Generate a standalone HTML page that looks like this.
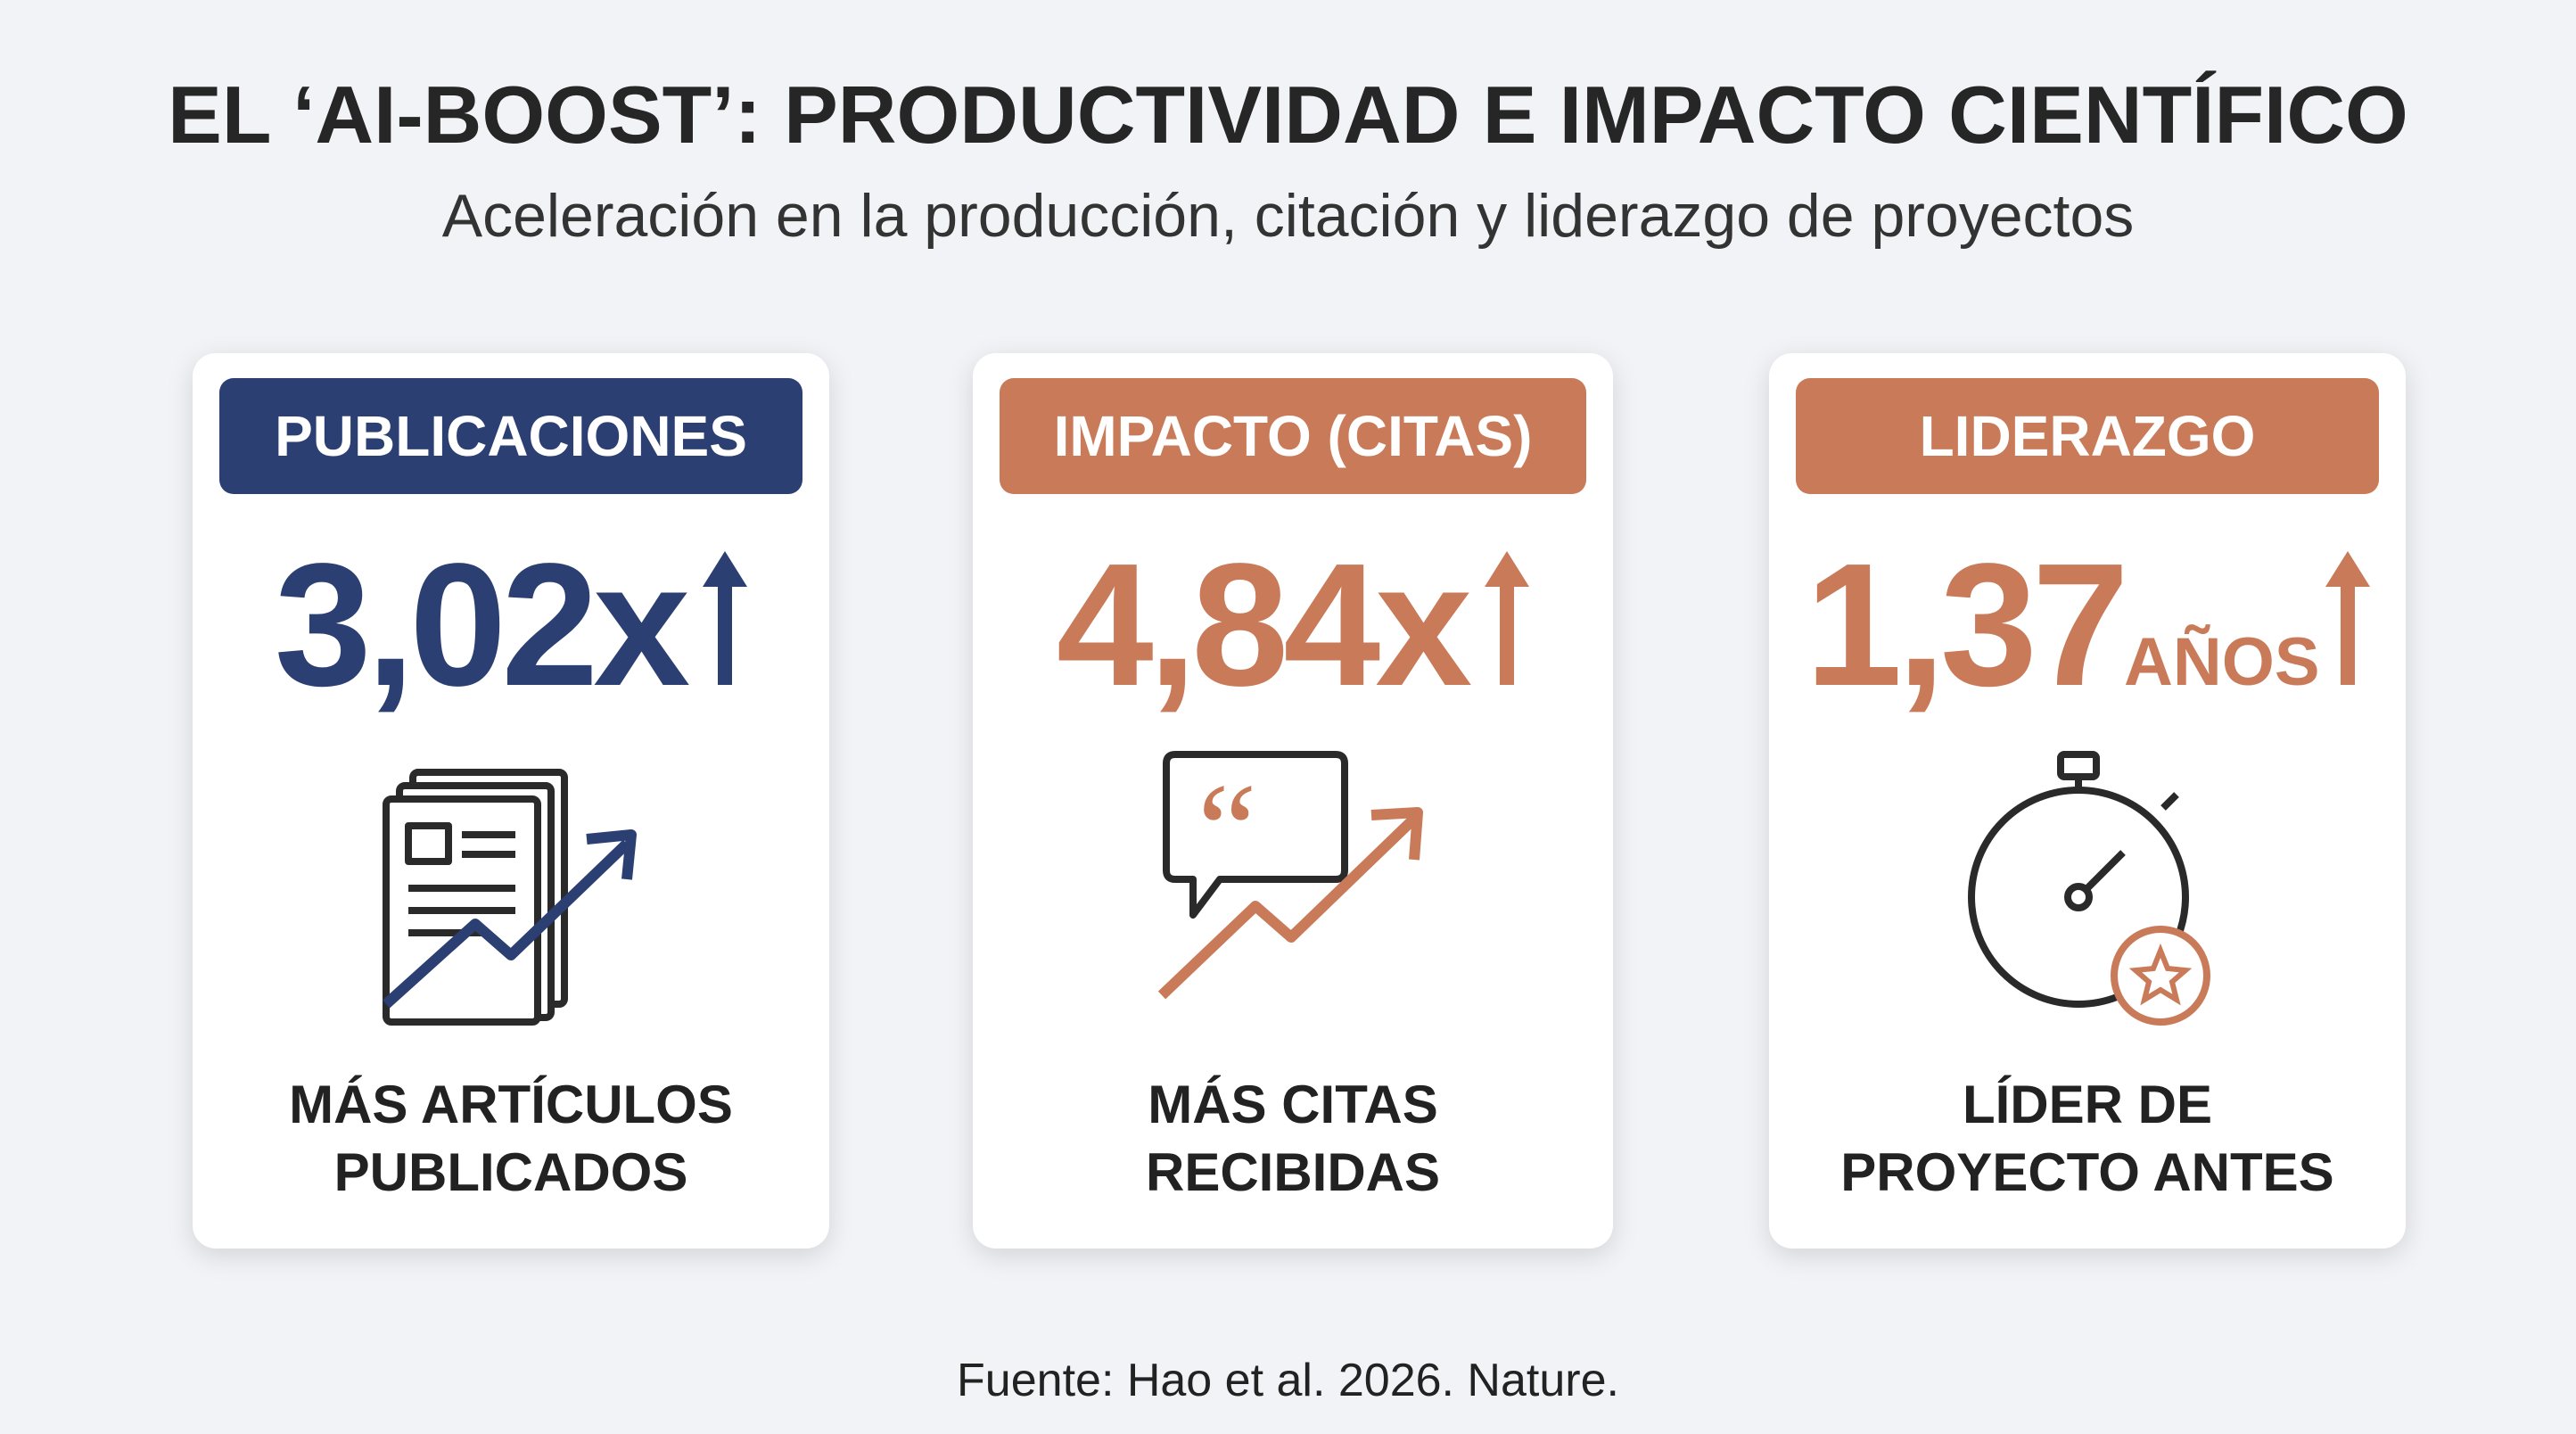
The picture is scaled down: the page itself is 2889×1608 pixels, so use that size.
<!DOCTYPE html>
<html><head><meta charset="utf-8"><style>
*{margin:0;padding:0;box-sizing:border-box}
body{width:2889px;height:1608px;background:#f2f3f6;font-family:"Liberation Sans",sans-serif;position:relative;overflow:hidden;color:#2a2a2a}
.t{position:absolute;left:0;width:2889px;text-align:center}
.card{position:absolute;top:396px;width:714px;height:1004px;background:#fff;border-radius:26px;box-shadow:0 8px 30px rgba(0,0,0,.13)}
.pill{position:absolute;left:30px;right:30px;top:28px;height:130px;border-radius:16px;color:#fff;font-weight:bold;font-size:64px;display:flex;align-items:center;justify-content:center}
.num{position:absolute;left:0;right:0;top:195px;text-align:center;font-weight:bold;font-size:196px;letter-spacing:-6px;line-height:220px}
.num svg{vertical-align:baseline;margin-left:20px}
.lab{position:absolute;left:0;right:0;top:805px;text-align:center;font-weight:bold;font-size:60px;line-height:76px;color:#222}
svg.ic{position:absolute;left:207px;top:440px;width:300px;height:320px}
</style></head><body>
<div class="t" style="top:78px;font-size:91px;font-weight:bold;color:#262626">EL ‘AI-BOOST’: PRODUCTIVIDAD E IMPACTO CIENTÍFICO</div>
<div class="t" style="top:203px;font-size:68px;color:#333">Aceleración en la producción, citación y liderazgo de proyectos</div>

<div class="card" style="left:216px">
 <div class="pill" style="background:#2b3f73">PUBLICACIONES</div>
 <div class="num" style="color:#2b3f73">3,02x<svg width="50" height="150" viewBox="0 0 50 150"><polygon points="25,0 50,40 33,40 33,150 17,150 17,40 0,40" fill="#2b3f73"/></svg></div>
 <svg class="ic" viewBox="0 0 300 320" fill="none" stroke="#2a2a2a" stroke-width="8" stroke-linejoin="round">
  <rect x="40" y="30" width="170" height="260" rx="6"/><rect x="25" y="45" width="170" height="260" rx="6" fill="#fff"/>
  <rect x="10" y="60" width="170" height="250" rx="6" fill="#fff"/>
  <rect x="35" y="90" width="45" height="40"/><line x1="95" y1="100" x2="155" y2="100"/><line x1="95" y1="122" x2="155" y2="122"/>
  <line x1="35" y1="160" x2="155" y2="160"/><line x1="35" y1="185" x2="155" y2="185"/><line x1="35" y1="210" x2="120" y2="210"/>
  <polyline points="10,290 110,200 150,235 280,110" stroke="#2b3f73" stroke-width="12"/>
  <polyline points="235,105 285,100 280,150" stroke="#2b3f73" stroke-width="12"/>
 </svg>
 <div class="lab">MÁS ARTÍCULOS<br>PUBLICADOS</div>
</div>

<div class="card" style="left:1091px;width:718px">
 <div class="pill" style="background:#c97a58">IMPACTO (CITAS)</div>
 <div class="num" style="color:#c97a58">4,84x<svg width="50" height="150" viewBox="0 0 50 150"><polygon points="25,0 50,40 33,40 33,150 17,150 17,40 0,40" fill="#c97a58"/></svg></div>
 <svg class="ic" viewBox="0 0 300 320" fill="none" stroke="#2a2a2a" stroke-width="8" stroke-linejoin="round">
  <path d="M20 10 H200 Q210 10 210 20 V140 Q210 150 200 150 H70 L40 190 V150 H20 Q10 150 10 140 V20 Q10 10 20 10Z"/>
  <text x="45" y="145" font-size="150" font-family="Liberation Serif" fill="#c97a58" stroke="none">“</text>
  <polyline points="5,280 110,180 150,215 290,80" stroke="#c97a58" stroke-width="12"/>
  <polyline points="240,78 292,75 288,128" stroke="#c97a58" stroke-width="12"/>
 </svg>
 <div class="lab">MÁS CITAS<br>RECIBIDAS</div>
</div>

<div class="card" style="left:1984px">
 <div class="pill" style="background:#c97a58">LIDERAZGO</div>
 <div class="num" style="color:#c97a58">1,37<span style="font-size:76px;letter-spacing:0">AÑOS</span><svg width="50" height="150" viewBox="0 0 50 150" style="margin-left:6px"><polygon points="25,0 50,40 33,40 33,150 17,150 17,40 0,40" fill="#c97a58"/></svg></div>
 <svg class="ic" viewBox="0 0 300 320" fill="none" stroke="#2a2a2a" stroke-width="8">
  <circle cx="140" cy="170" r="120"/><rect x="120" y="10" width="40" height="25" rx="4"/><line x1="140" y1="35" x2="140" y2="50"/>
  <line x1="235" y1="70" x2="250" y2="55"/>
  <circle cx="140" cy="170" r="12"/><line x1="148" y1="162" x2="190" y2="120"/>
  <circle cx="232" cy="258" r="52" fill="#fff" stroke="#c97a58"/>
  <polygon points="232,230 240,250 260,252 245,265 250,285 232,274 214,285 219,265 204,252 224,250" stroke="#c97a58" stroke-width="6"/>
 </svg>
 <div class="lab">LÍDER DE<br>PROYECTO ANTES</div>
</div>

<div class="t" style="top:1518px;font-size:52px;color:#222">Fuente: Hao et al. 2026. Nature.</div>
</body></html>
